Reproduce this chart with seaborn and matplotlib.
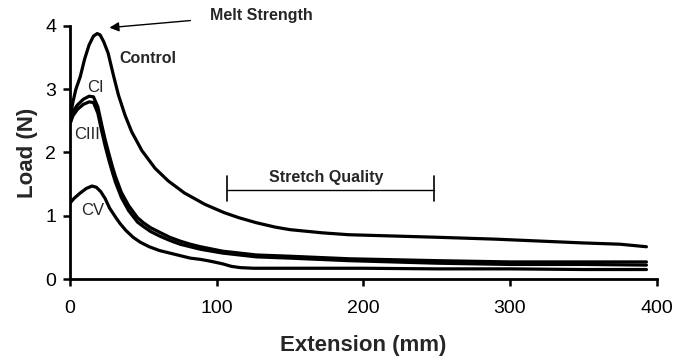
import matplotlib
matplotlib.use("Agg")
import matplotlib.pyplot as plt
import seaborn as sns
import pandas as pd

# ---- data ----
control_x = [0, 2, 4, 7, 10, 13, 16, 18.5, 20.5, 23, 26, 29.5, 33, 37.5, 42, 49, 58, 67, 78, 92,
             105, 115, 127, 140, 150, 172, 190, 220, 250, 290, 320, 350, 375, 393]
control_y = [2.55, 2.8, 3.0, 3.2, 3.48, 3.70, 3.84, 3.88, 3.86, 3.75, 3.57, 3.23, 2.91, 2.59, 2.33, 2.03,
             1.75, 1.55, 1.36, 1.18, 1.05, 0.97, 0.89, 0.82, 0.78, 0.73, 0.70, 0.68, 0.66, 0.63, 0.60,
             0.57, 0.55, 0.51]

ci_x = [0, 2, 5, 9, 13, 16, 19, 21.5, 24, 26.5, 29, 31, 35, 40, 46, 50, 55, 61, 68, 75, 82, 89, 104, 127,
        150, 190, 250, 300, 350, 393]
ci_y = [2.5, 2.65, 2.75, 2.84, 2.89, 2.88, 2.72, 2.45, 2.2, 1.98, 1.77, 1.62, 1.37, 1.16, 0.97, 0.89, 0.81,
        0.74, 0.66, 0.60, 0.55, 0.51, 0.44, 0.38, 0.36, 0.32, 0.29, 0.27, 0.27, 0.27]

ciii_x = [0, 2, 5, 9, 13, 16, 19, 21.5, 24, 26.5, 29, 31, 35, 40, 46, 50, 55, 61, 68, 75, 82, 89, 104, 127,
          150, 190, 250, 300, 350, 393]
ciii_y = [2.45, 2.58, 2.68, 2.76, 2.80, 2.79, 2.62, 2.35, 2.1, 1.88, 1.68, 1.53, 1.29, 1.08, 0.90, 0.83, 0.75,
          0.68, 0.61, 0.55, 0.51, 0.47, 0.41, 0.35, 0.33, 0.29, 0.25, 0.23, 0.23, 0.22]

cv_x = [0, 3, 7, 11, 15, 18, 21, 24, 27, 31, 34, 38, 43, 48, 54, 61, 68, 75, 82, 89, 96, 104, 110, 116,
        125, 150, 200, 250, 300, 350, 393]
cv_y = [1.2, 1.28, 1.36, 1.43, 1.47, 1.45, 1.38, 1.27, 1.12, 0.98, 0.88, 0.77, 0.66, 0.58, 0.51, 0.45, 0.41,
        0.37, 0.33, 0.31, 0.28, 0.24, 0.20, 0.18, 0.17, 0.17, 0.17, 0.16, 0.16, 0.15, 0.15]

x_ticks = [0, 100, 200, 300, 400]
y_ticks = [0, 1, 2, 3, 4]

frames = []
for name, xs, ys in [("Control", control_x, control_y), ("CI", ci_x, ci_y),
                     ("CIII", ciii_x, ciii_y), ("CV", cv_x, cv_y)]:
    frames.append(pd.DataFrame({"Extension": xs, "Load": ys, "Sample": name}))
df = pd.concat(frames, ignore_index=True)

sns.set_style("ticks")
plt.rcParams['font.family'] = ['Liberation Sans', 'DejaVu Sans']

fig = plt.figure(figsize=(6.81, 3.60), dpi=100)
ax = fig.add_axes([0.1028, 0.225, 0.8615, 0.7028])

palette = {"Control": "black", "CI": "black", "CIII": "black", "CV": "black"}
sns.lineplot(data=df, x="Extension", y="Load", hue="Sample", palette=palette,
             estimator=None, legend=False, linewidth=2.3, ax=ax)

ax.set_xlim(0, 400)
ax.set_ylim(0, 4)
ax.set_xticks(x_ticks)
ax.set_yticks(y_ticks)
ax.tick_params(axis='both', labelsize=14, width=1.8, length=5, direction='out', colors='black')
ax.tick_params(axis='x', pad=10)
ax.tick_params(axis='y', pad=5)
for s in ["top", "right"]:
    ax.spines[s].set_visible(False)
for s in ["left", "bottom"]:
    ax.spines[s].set_linewidth(2.0)
    ax.spines[s].set_color('black')

ax.set_xlabel("Extension (mm)", fontsize=16, fontweight='bold', labelpad=13)
ax.set_ylabel("Load (N)", fontsize=16, fontweight='bold', labelpad=5)

# annotations
ax.annotate("", xy=(25, 3.97), xytext=(84, 4.09),
            arrowprops=dict(arrowstyle="-|>", color='black', lw=1.0, mutation_scale=14),
            annotation_clip=False)
ax.text(95.5, 4.16, "Melt Strength", fontsize=11.5, fontweight='bold', ha='left', va='center',
        clip_on=False)
ax.text(52.8, 3.48, "Control", fontsize=11.5, fontweight='bold', ha='center', va='center')
ax.text(17.4, 3.03, "CI", fontsize=12, ha='center', va='center')
ax.text(11.9, 2.28, "CIII", fontsize=12, ha='center', va='center')
ax.text(15.7, 1.08, "CV", fontsize=12, ha='center', va='center')

ax.plot([107, 248], [1.40, 1.40], color='black', lw=1.0)
ax.plot([107, 107], [1.24, 1.63], color='black', lw=1.2)
ax.plot([248, 248], [1.24, 1.63], color='black', lw=1.2)
ax.text(175, 1.61, "Stretch Quality", fontsize=11.5, fontweight='bold', ha='center', va='center')

fig.savefig("out.png", dpi=100)
